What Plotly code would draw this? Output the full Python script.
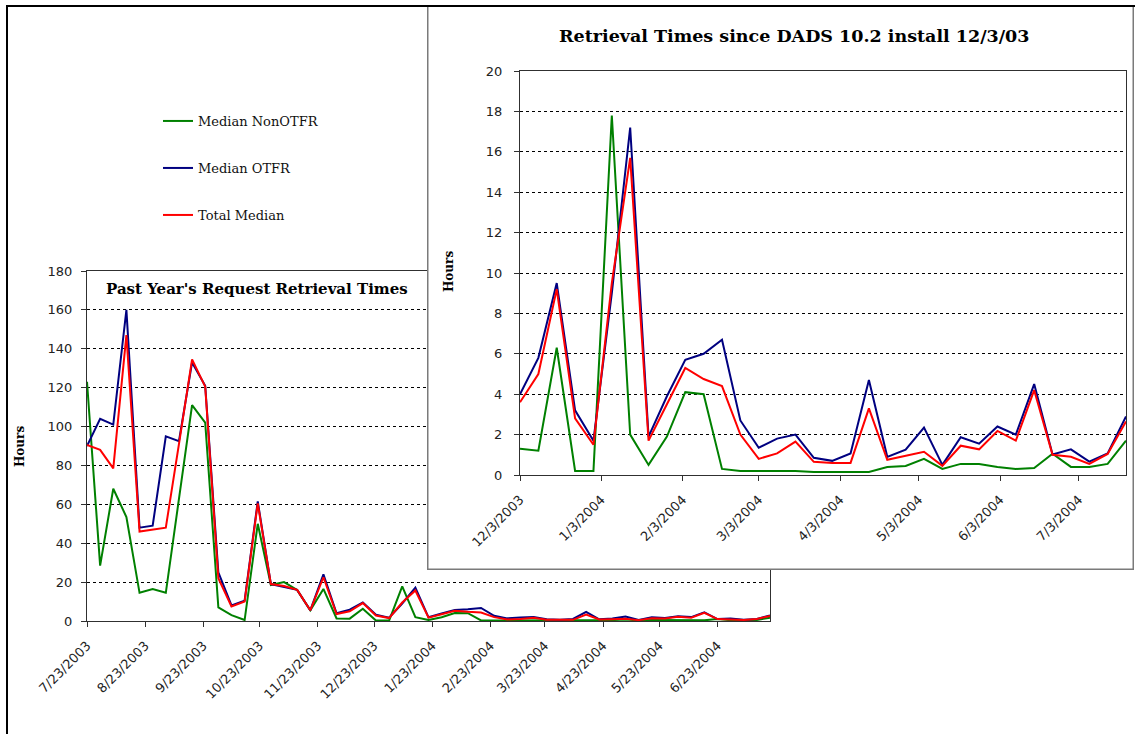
import plotly.graph_objects as go
import pandas as pd

# ---------------- data ----------------
start_date = "2003-07-23"
n_weeks = 53
dates = pd.date_range(start_date, periods=n_weeks, freq="7D")
inset_start_index = 19  # 12/3/2003

median_nonotfr = [123, 28.5, 68, 53.5, 14.5, 16.5, 14.5, 62, 111, 102, 7, 3, 0.5, 50, 18.5, 20, 16, 5.5, 16.5,
                  1.3, 1.2, 6.3, 0.2, 0.2, 17.8, 2.0, 0.5, 1.9, 4.1, 4.0, 0.3, 0.2, 0.2, 0.2, 0.2, 0.15, 0.15,
                  0.15, 0.15, 0.4, 0.45, 0.8, 0.3, 0.55, 0.55, 0.4, 0.3, 0.35, 1.05, 0.4, 0.4, 0.55, 1.7]
median_otfr = [90, 104, 101, 160, 48, 49, 95, 92.5, 133, 121, 25, 8, 10.5, 61.5, 19, 17.5, 16, 5.5, 24,
               4.0, 5.8, 9.5, 3.2, 1.7, 9.0, 17.2, 1.9, 3.9, 5.7, 6.0, 6.7, 2.7, 1.35, 1.8, 2.0, 0.85, 0.7,
               1.07, 4.7, 0.9, 1.25, 2.35, 0.5, 1.87, 1.55, 2.4, 2.0, 4.5, 1.02, 1.27, 0.66, 1.07, 2.9]
total_median = [90.5, 88, 78.5, 147, 46, 47, 48, 91, 134.5, 120.5, 22, 7.5, 10, 60.5, 19, 18, 16, 5.5, 22.5,
                3.6, 5.0, 9.2, 2.8, 1.5, 9.5, 15.7, 1.7, 3.5, 5.3, 4.75, 4.4, 2.0, 0.8, 1.07, 1.65, 0.65, 0.6,
                0.6, 3.3, 0.75, 0.95, 1.15, 0.45, 1.45, 1.27, 2.18, 1.7, 4.2, 1.0, 0.9, 0.55, 1.04, 2.65]

series_names = ["Median NonOTFR", "Median OTFR", "Total Median"]
series_values = [median_nonotfr, median_otfr, total_median]
series_colors = ["#008000", "#000080", "#FF0000"]

year_ticks = ["2003-07-23", "2003-08-23", "2003-09-23", "2003-10-23", "2003-11-23", "2003-12-23",
              "2004-01-23", "2004-02-23", "2004-03-23", "2004-04-23", "2004-05-23", "2004-06-23"]
inset_ticks = ["2003-12-03", "2004-01-03", "2004-02-03", "2004-03-03", "2004-04-03", "2004-05-03",
               "2004-06-03", "2004-07-03"]

title_main = "Past Year's Request Retrieval Times"
title_inset = "Retrieval Times since DADS 10.2 install 12/3/03"
y_title = "Hours"


def fmt(d):
    t = pd.Timestamp(d)
    return f"{t.month}/{t.day}/{t.year}"


W, H = 1135, 734


def px_x(a, b):
    return [a / W, b / W]


def px_y(top, bottom):
    return [1 - bottom / H, 1 - top / H]


fig = go.Figure()

# background (past year) chart
legend_ids = ["legend", "legend2", "legend3"]
for name, vals, col, lg in zip(series_names, series_values, series_colors, legend_ids):
    fig.add_trace(go.Scatter(x=dates, y=vals, mode="lines", name=name,
                             line=dict(color=col, width=2), xaxis="x", yaxis="y",
                             legend=lg, showlegend=True))

# dummy trace for the inset box subplot
fig.add_trace(go.Scatter(x=[None], y=[None], xaxis="x2", yaxis="y2", showlegend=False, hoverinfo="skip"))

# inset chart
inset_dates = dates[inset_start_index:]
for name, vals, col in zip(series_names, series_values, series_colors):
    fig.add_trace(go.Scatter(x=inset_dates, y=vals[inset_start_index:], mode="lines", name=name,
                             line=dict(color=col, width=2), xaxis="x3", yaxis="y3", showlegend=False))

tick_font = dict(family="DejaVu Sans", size=13, color="#222222")
axis_common = dict(showline=True, linecolor="#303030", linewidth=1, mirror=True,
                   ticks="outside", ticklen=5, tickcolor="#303030", zeroline=False)
grid = dict(showgrid=True, gridcolor="#000000", gridwidth=1, griddash="3px,3px")

fig.update_layout(
    width=W, height=H,
    margin=dict(l=0, r=0, t=0, b=0, pad=0, autoexpand=False),
    paper_bgcolor="white", plot_bgcolor="white",
    xaxis=dict(domain=px_x(87, 770), type="date",
               range=[dates[0], dates[-1]],
               tickvals=year_ticks, ticktext=[fmt(d) for d in year_ticks],
               tickangle=-45, tickfont=tick_font, ticklabelstandoff=6, showgrid=False, **axis_common),
    yaxis=dict(domain=px_y(271, 621), range=[0, 180], dtick=20, tickfont=tick_font,
               ticklabelstandoff=6, **grid, **axis_common),
    xaxis2=dict(domain=px_x(427, 1134), range=[0, 1], showgrid=False, showticklabels=False,
                zeroline=False, showline=False, ticks="", fixedrange=True, anchor="y2"),
    yaxis2=dict(domain=px_y(5, 570), range=[0, 1], showgrid=False, showticklabels=False,
                zeroline=False, showline=False, ticks="", fixedrange=True, anchor="x2"),
    xaxis3=dict(domain=px_x(520, 1126), type="date",
                range=[inset_dates[0], inset_dates[-1]],
                tickvals=inset_ticks, ticktext=[fmt(d) for d in inset_ticks],
                tickangle=-45, tickfont=tick_font, ticklabelstandoff=6, showgrid=False, anchor="y3",
                **axis_common),
    yaxis3=dict(domain=px_y(71, 475), range=[0, 20], dtick=2, tickfont=tick_font,
                ticklabelstandoff=9, anchor="x3", **grid, **axis_common),
)

legend_font = dict(family="DejaVu Serif", size=13, color="#111111")
for lg, ypx in zip(legend_ids, [121, 168, 215]):
    fig.update_layout({lg: dict(x=158 / W, y=1 - ypx / H, xanchor="left", yanchor="middle",
                                font=legend_font, bgcolor="rgba(0,0,0,0)", borderwidth=0)})

# inset box (white, covers the background chart) drawn in subplot x2y2
fig.add_shape(type="rect", xref="x2", yref="y2", x0=0, x1=1, y0=0, y1=1,
              fillcolor="white", line=dict(color="#7a7a7a", width=3), layer="below")
# outer chart border
fig.add_shape(type="rect", xref="paper", yref="paper", x0=7 / W, x1=1.02, y0=-0.05, y1=1 - 6 / H,
              line=dict(color="#000000", width=2), fillcolor="rgba(0,0,0,0)", layer="above")

fig.add_annotation(x=257 / W, y=1 - 289 / H, xref="paper", yref="paper", text="<b>" + title_main + "</b>",
                   showarrow=False, font=dict(family="DejaVu Serif", size=15, color="#000000"),
                   xanchor="center", yanchor="middle")
fig.add_annotation(x=794 / W, y=1 - 36 / H, xref="paper", yref="paper", text="<b>" + title_inset + "</b>",
                   showarrow=False, font=dict(family="DejaVu Serif", size=17.5, color="#000000"),
                   xanchor="center", yanchor="middle")
fig.add_annotation(x=20 / W, y=1 - 447 / H, xref="paper", yref="paper", text="<b>" + y_title + "</b>",
                   showarrow=False, textangle=-90, font=dict(family="DejaVu Serif", size=12, color="#000000"),
                   xanchor="center", yanchor="middle")
fig.add_annotation(x=449 / W, y=1 - 272 / H, xref="paper", yref="paper", text="<b>" + y_title + "</b>",
                   showarrow=False, textangle=-90, font=dict(family="DejaVu Serif", size=12, color="#000000"),
                   xanchor="center", yanchor="middle")

fig.write_html("out.html", config={"displayModeBar": False},
               post_script="document.body.style.margin='0';")
